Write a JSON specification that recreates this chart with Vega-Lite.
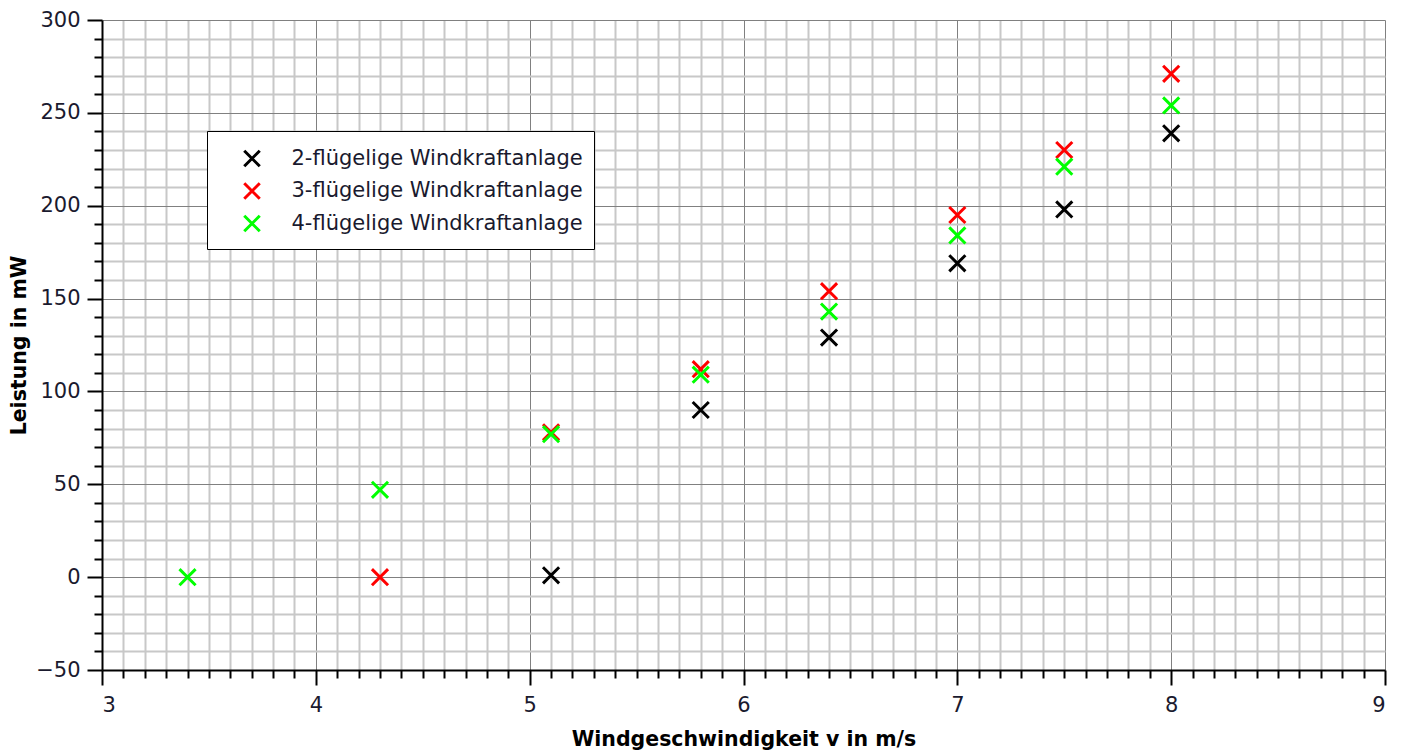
{
  "$schema": "https://vega.github.io/schema/vega-lite/v6.json",
  "width": 1283,
  "height": 650,
  "autosize": {"type": "none"},
  "padding": {"left": 102, "top": 20, "right": 16, "bottom": 82},
  "background": "white",
  "config": {
    "view": {"stroke": null},
    "font": "DejaVu Sans"
  },
  "datasets": {
    "messung": [
      {"v": 5.1, "P": 1, "Anlage": "2-flügelige Windkraftanlage"},
      {"v": 5.8, "P": 90, "Anlage": "2-flügelige Windkraftanlage"},
      {"v": 6.4, "P": 129, "Anlage": "2-flügelige Windkraftanlage"},
      {"v": 7.0, "P": 169, "Anlage": "2-flügelige Windkraftanlage"},
      {"v": 7.5, "P": 198, "Anlage": "2-flügelige Windkraftanlage"},
      {"v": 8.0, "P": 239, "Anlage": "2-flügelige Windkraftanlage"},
      {"v": 4.3, "P": 0, "Anlage": "3-flügelige Windkraftanlage"},
      {"v": 5.1, "P": 78, "Anlage": "3-flügelige Windkraftanlage"},
      {"v": 5.8, "P": 112, "Anlage": "3-flügelige Windkraftanlage"},
      {"v": 6.4, "P": 154, "Anlage": "3-flügelige Windkraftanlage"},
      {"v": 7.0, "P": 195, "Anlage": "3-flügelige Windkraftanlage"},
      {"v": 7.5, "P": 230, "Anlage": "3-flügelige Windkraftanlage"},
      {"v": 8.0, "P": 271, "Anlage": "3-flügelige Windkraftanlage"},
      {"v": 3.4, "P": 0, "Anlage": "4-flügelige Windkraftanlage"},
      {"v": 4.3, "P": 47, "Anlage": "4-flügelige Windkraftanlage"},
      {"v": 5.1, "P": 77, "Anlage": "4-flügelige Windkraftanlage"},
      {"v": 5.8, "P": 109, "Anlage": "4-flügelige Windkraftanlage"},
      {"v": 6.4, "P": 143, "Anlage": "4-flügelige Windkraftanlage"},
      {"v": 7.0, "P": 184, "Anlage": "4-flügelige Windkraftanlage"},
      {"v": 7.5, "P": 221, "Anlage": "4-flügelige Windkraftanlage"},
      {"v": 8.0, "P": 254, "Anlage": "4-flügelige Windkraftanlage"}
    ]
  },
  "data": {"name": "messung"},
  "resolve": {"axis": {"x": "independent", "y": "independent"}},
  "layer": [
    {
      "mark": {"type": "point", "opacity": 0},
      "encoding": {
        "x": {
          "field": "v", "type": "quantitative",
          "scale": {"domain": [3, 9], "nice": false, "zero": false},
          "axis": {
            "orient": "bottom",
            "values": [3.1,3.2,3.3,3.4,3.5,3.6,3.7,3.8,3.9,4.1,4.2,4.3,4.4,4.5,4.6,4.7,4.8,4.9,5.1,5.2,5.3,5.4,5.5,5.6,5.7,5.8,5.9,6.1,6.2,6.3,6.4,6.5,6.6,6.7,6.8,6.9,7.1,7.2,7.3,7.4,7.5,7.6,7.7,7.8,7.9,8.1,8.2,8.3,8.4,8.5,8.6,8.7,8.8,8.9],
            "grid": true, "gridColor": "#c8c8c8", "gridWidth": 2, "gridOpacity": 1,
            "domain": false, "labels": false, "title": null,
            "ticks": true, "tickSize": 8, "tickWidth": 2, "tickColor": "black",
            "zindex": 0
          }
        },
        "y": {
          "field": "P", "type": "quantitative",
          "scale": {"domain": [-50, 300], "nice": false, "zero": false},
          "axis": {
            "orient": "left",
            "values": [-40,-30,-20,-10,10,20,30,40,60,70,80,90,110,120,130,140,160,170,180,190,210,220,230,240,260,270,280,290],
            "grid": true, "gridColor": "#c8c8c8", "gridWidth": 2, "gridOpacity": 1,
            "domain": false, "labels": false, "title": null,
            "ticks": true, "tickSize": 8, "tickWidth": 2, "tickColor": "black",
            "zindex": 0
          }
        }
      }
    },
    {
      "mark": {
        "type": "point",
        "shape": "M-1,-1L1,1M1,-1L-1,1",
        "filled": false,
        "size": 260,
        "strokeWidth": 3,
        "opacity": 1
      },
      "encoding": {
        "x": {
          "field": "v", "type": "quantitative",
          "axis": {
            "orient": "bottom",
            "values": [3, 4, 5, 6, 7, 8, 9],
            "grid": true, "gridColor": "#808080", "gridWidth": 1, "gridOpacity": 1,
            "domain": true, "domainColor": "black", "domainWidth": 2,
            "ticks": true, "tickSize": 15, "tickWidth": 2, "tickColor": "black",
            "labelFont": "DejaVu Sans", "labelFontSize": 21, "labelColor": "#1a1a2e",
            "labelPadding": 9,
            "title": "Windgeschwindigkeit v in m/s",
            "titleFont": "DejaVu Sans", "titleFontSize": 20.5, "titleFontWeight": "bold",
            "titleColor": "black", "titlePadding": 14,
            "zindex": 0
          }
        },
        "y": {
          "field": "P", "type": "quantitative",
          "axis": {
            "orient": "left",
            "values": [-50, 0, 50, 100, 150, 200, 250, 300],
            "grid": true, "gridColor": "#808080", "gridWidth": 1, "gridOpacity": 1,
            "domain": true, "domainColor": "black", "domainWidth": 2,
            "ticks": true, "tickSize": 15, "tickWidth": 2, "tickColor": "black",
            "labelFont": "DejaVu Sans", "labelFontSize": 21, "labelColor": "#1a1a2e",
            "labelPadding": 7,
            "title": "Leistung in mW",
            "titleFont": "DejaVu Sans", "titleFontSize": 20.5, "titleFontWeight": "bold",
            "titleColor": "black", "titlePadding": 6,
            "zindex": 0
          }
        },
        "color": {
          "field": "Anlage", "type": "nominal",
          "scale": {
            "domain": ["2-flügelige Windkraftanlage", "3-flügelige Windkraftanlage", "4-flügelige Windkraftanlage"],
            "range": ["#000000", "#ff0000", "#00ff00"]
          },
          "legend": {
            "orient": "none",
            "legendX": 105,
            "legendY": 111,
            "title": "\u00a0",
            "titleFontSize": 6,
            "titlePadding": 0,
            "padding": 11,
            "strokeColor": "black",
            "fillColor": "white",
            "symbolType": "M-1,-1L1,1M1,-1L-1,1",
            "symbolSize": 240,
            "symbolStrokeWidth": 3,
            "symbolOffset": 23.5,
            "labelOffset": 29,
            "rowPadding": 3.5,
            "labelFont": "DejaVu Sans",
            "labelFontSize": 21,
            "labelColor": "#1a1a2e",
            "labelLimit": 500
          }
        },
        "order": {"field": "Anlage", "type": "nominal"}
      }
    }
  ]
}
